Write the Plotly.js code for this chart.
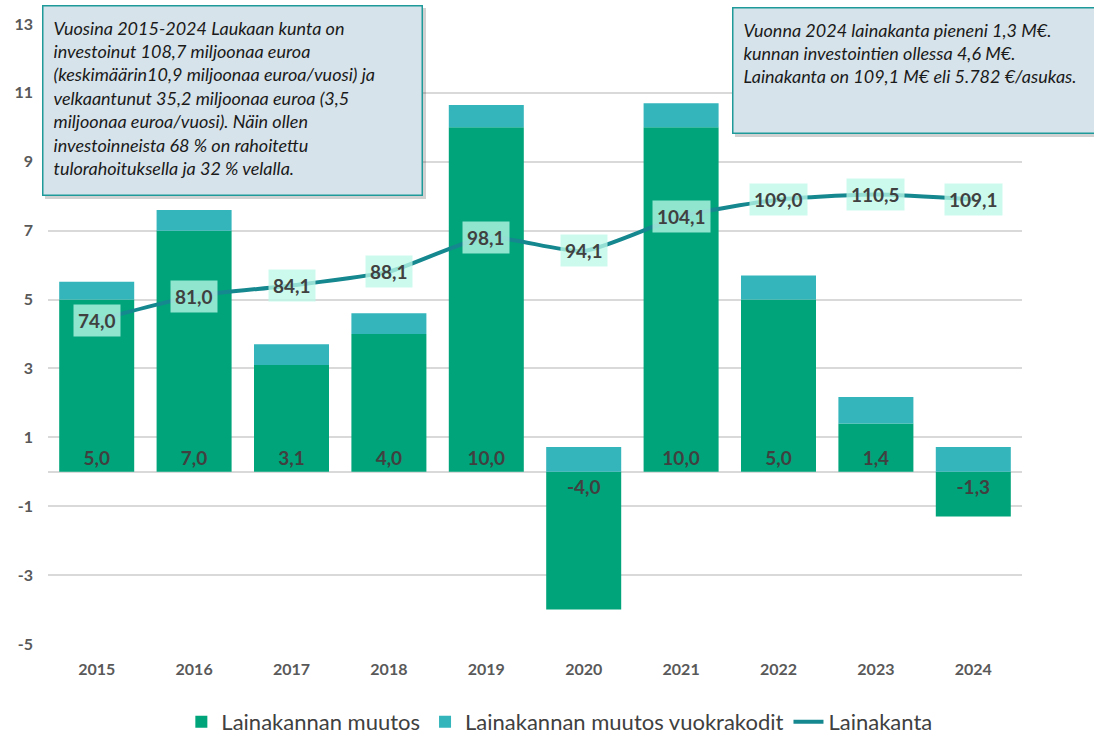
<!DOCTYPE html>
<html>
<head>
<meta charset="utf-8">
<script src="https://cdn.plot.ly/plotly-3.0.1.min.js"></script>
<style>html,body{margin:0;padding:0;background:#fff;}#chart{width:1094px;height:736px;}</style>
</head>
<body>
<div id="chart"></div>
<script>
const years = ['2015','2016','2017','2018','2019','2020','2021','2022','2023','2024'];
const lainakannanMuutos = [5.0, 7.0, 3.1, 4.0, 10.0, -4.0, 10.0, 5.0, 1.4, -1.3];
const vuokrakodit = [0.52, 0.6, 0.6, 0.6, 0.65, 0.72, 0.7, 0.7, 0.77, 0.72];
const lainakanta = [74.0, 81.0, 84.1, 88.1, 98.1, 94.1, 104.1, 109.0, 110.5, 109.1];
const seriesNames = ['Lainakannan muutos', 'Lainakannan muutos vuokrakodit', 'Lainakanta'];
const yTickVals = [-5, -3, -1, 1, 3, 5, 7, 9, 11, 13];
const yTickText = ['-5', '-3', '-1', '1', '3', '5', '7', '9', '11', '13'];
const note1 = 'Vuosina 2015-2024 Laukaan kunta on<br>investoinut 108,7 miljoonaa euroa<br>(keskimäärin10,9 miljoonaa euroa/vuosi) ja<br>velkaantunut 35,2 miljoonaa euroa (3,5<br>miljoonaa euroa/vuosi). Näin ollen<br>investoinneista 68 % on rahoitettu<br>tulorahoituksella ja 32 % velalla.';
const note2 = 'Vuonna 2024 lainakanta pieneni 1,3 M€.<br>kunnan investointien ollessa 4,6 M€.<br>Lainakanta on 109,1 M€ eli 5.782 €/asukas.';

const FONT = 'Lato, "Open Sans", sans-serif';
const fmt = v => v.toFixed(1).replace('.', ',');

// plot area in pixels: left 48, top 24, width 974, height 620
const px = x => (x - 48) / 974;
const py = y => (644 - y) / 620;

const traces = [
  {
    type: 'bar', name: seriesNames[0], x: years, y: lainakannanMuutos,
    marker: {color: '#00a47a'},
    text: lainakannanMuutos.map(fmt), textposition: 'inside', insidetextanchor: 'start',
    textfont: {family: FONT, size: 19, color: '#404040', weight: 'bold'},
    constraintext: 'none', hoverinfo: 'x+y'
  },
  {
    type: 'bar', name: seriesNames[1], x: years, y: vuokrakodit,
    marker: {color: '#33b5bb'}, hoverinfo: 'x+y'
  },
  {
    type: 'scatter', mode: 'lines', name: seriesNames[2], x: years, y: lainakanta,
    yaxis: 'y2', line: {color: '#15878f', width: 4, shape: 'spline', smoothing: 0.6}
  }
];

const pointLabels = years.map((yr, i) => ({
  x: i, y: lainakanta[i], xref: 'x', yref: 'y2',
  text: fmt(lainakanta[i]), showarrow: false,
  font: {family: FONT, size: 19, color: '#404040', weight: 'bold'},
  bgcolor: 'rgba(188,250,233,0.76)', borderpad: 4
}));

const notes = [
  {
    xref: 'paper', yref: 'paper', x: px(42), y: py(5),
    xanchor: 'left', yanchor: 'top', align: 'left', valign: 'top',
    width: 358, height: 168, borderpad: 10, borderwidth: 1.5,
    bordercolor: '#1f9a9a', bgcolor: '#d7e3ea', showarrow: false,
    text: note1, font: {family: FONT, size: 18, color: '#1a1a1a', style: 'italic'}
  },
  {
    xref: 'paper', yref: 'paper', x: px(732), y: py(7),
    xanchor: 'left', yanchor: 'top', align: 'left', valign: 'top',
    width: 345, height: 104, borderpad: 10, borderwidth: 1.5,
    bordercolor: '#1f9a9a', bgcolor: '#d7e3ea', showarrow: false,
    text: note2, font: {family: FONT, size: 18, color: '#1a1a1a', style: 'italic'}
  }
];

const shadows = [
  {type: 'rect', xref: 'paper', yref: 'paper', x0: px(45), x1: px(426), y0: py(199), y1: py(8),
   fillcolor: 'rgba(0,0,0,0.18)', line: {width: 0}, layer: 'above'},
  {type: 'rect', xref: 'paper', yref: 'paper', x0: px(735), x1: px(1100), y0: py(137), y1: py(10),
   fillcolor: 'rgba(0,0,0,0.18)', line: {width: 0}, layer: 'above'}
];

const layout = {
  width: 1094, height: 736,
  margin: {l: 48, r: 72, t: 24, b: 92, autoexpand: false},
  paper_bgcolor: '#fff', plot_bgcolor: '#fff',
  barmode: 'relative', bargap: 0.23,
  separators: ', ',
  font: {family: FONT, color: '#595959'},
  showlegend: true,
  legend: {
    orientation: 'h', x: 0.525, xanchor: 'center', y: py(722), yanchor: 'middle',
    font: {family: FONT, size: 22, color: '#404040'}, itemwidth: 30, traceorder: 'normal'
  },
  xaxis: {
    type: 'category', range: [-0.5, years.length - 0.5], showgrid: false, showline: false, ticks: '',
    tickfont: {family: FONT, size: 16, color: '#595959', weight: 'bold'},
    ticklabelstandoff: 14
  },
  yaxis: {
    range: [-5, 13], tickmode: 'array', tickvals: yTickVals, ticktext: yTickText,
    showgrid: true, gridcolor: '#d9d9d9', gridwidth: 1.5,
    zeroline: true, zerolinecolor: '#d9d9d9', zerolinewidth: 1.5,
    tickfont: {family: FONT, size: 16, color: '#595959', weight: 'bold'},
    ticklabelstandoff: 14, showline: false
  },
  yaxis2: {
    overlaying: 'y', side: 'right', range: [-20, 160], visible: false, showgrid: false
  },
  shapes: shadows,
  annotations: pointLabels.concat(notes)
};

Plotly.newPlot('chart', traces, layout, {displayModeBar: false, responsive: false});
</script>
</body>
</html>
